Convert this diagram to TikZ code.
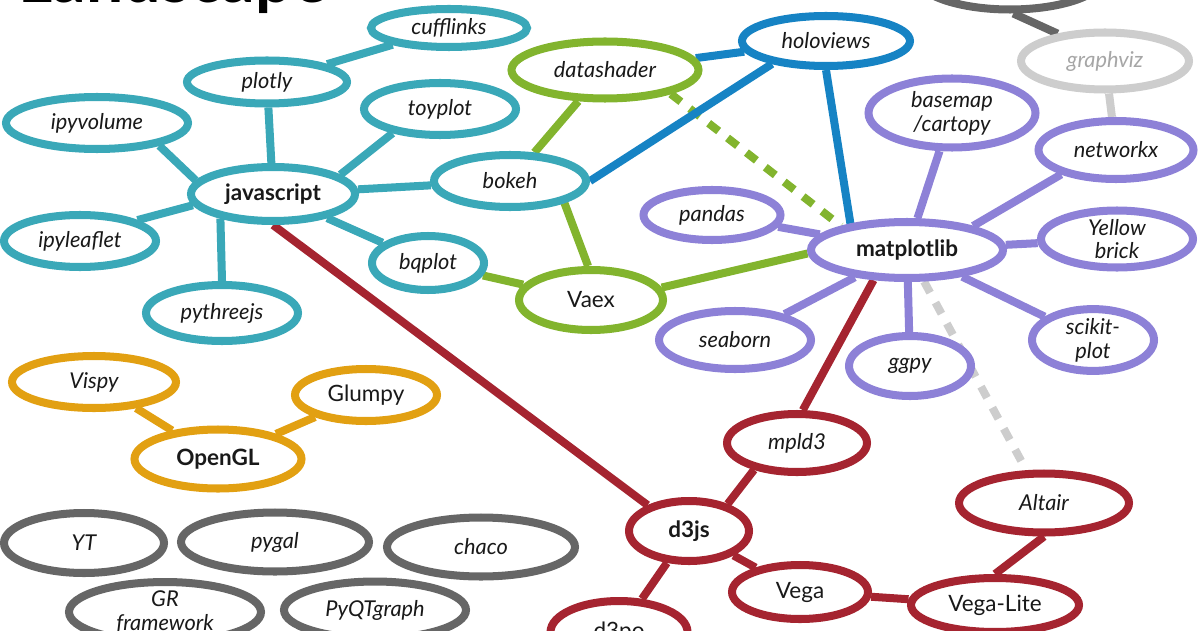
\documentclass[tikz,border=0pt]{standalone}
\usepackage{fontspec}
\setmainfont{Lato}
\usepackage{tikz}
\usetikzlibrary{shapes.geometric,backgrounds}

\definecolor{jsteal}{RGB}{58,168,184}
\definecolor{shadegreen}{RGB}{130,180,46}
\definecolor{holoblue}{RGB}{22,131,196}
\definecolor{mplpurple}{RGB}{141,129,215}
\definecolor{d3red}{RGB}{165,36,48}
\definecolor{glorange}{RGB}{226,160,18}
\definecolor{darkgray}{RGB}{102,102,102}
\definecolor{lightgray}{RGB}{205,205,205}

\tikzset{
    lib/.style={ellipse, draw, fill=white, line width=5.7pt, inner sep=0pt, align=center,
      text=black!90, font=\fontsize{15.5}{17}\selectfont\itshape},
    plain/.style={lib, font=\fontsize{16}{17}\selectfont},
    hub/.style={lib, font=\fontsize{16}{17}\selectfont\bfseries},
    sz/.style n args={2}{minimum width=#1*0.025cm, minimum height=#2*0.025cm},
    link/.style={line width=5.7pt},
    dashlink/.style={line width=5.7pt, dash pattern=on 9pt off 8pt}
}

\begin{document}
\begin{tikzpicture}[x=0.025cm, y=-0.025cm]
        \useasboundingbox (0,0) rectangle (1200,630);
        \clip (0,0) rectangle (1200,630);
        \node[font=\fontsize{47}{47}\selectfont\bfseries, anchor=base west, inner sep=0pt] (title) at (18,3) {Landscape};
        % javascript
        \node[hub, draw=jsteal, sz={164}{54}] (javascript) at (273,194) {javascript};
        \node[lib, draw=jsteal, sz={160}{43}] (plotly) at (267,82) {plotly};
        \node[lib, draw=jsteal, sz={156}{38}] (cufflinks) at (449,28) {cufflinks};
        \node[lib, draw=jsteal, sz={182}{52}] (ipyvolume) at (97,123) {ipyvolume};
        \node[lib, draw=jsteal, sz={152}{52}] (toyplot) at (440,109) {toyplot};
        \node[lib, draw=jsteal, sz={152}{52}] (bokeh) at (510,181) {bokeh};
        \node[lib, draw=jsteal, sz={152}{52}] (ipyleaflet) at (80,241) {ipyleaflet};
        \node[lib, draw=jsteal, sz={152}{56}] (pythreejs) at (222,313) {pythreejs};
        \node[lib, draw=jsteal, sz={112}{54}] (bqplot) at (428,263) {bqplot};
        % datashader, holoviews, vaex
        \node[lib, draw=shadegreen, sz={187}{57}] (datashader) at (605,70) {datashader};
        \node[lib, draw=holoblue, sz={168}{50}] (holoviews) at (826,41) {holoviews};
        \node[plain, draw=shadegreen, sz={144}{60}] (vaex) at (591,300) {Vaex};
        % matplotlib
        \node[hub, draw=mplpurple, sz={192}{56}] (matplotlib) at (907,250) {matplotlib};
        \node[lib, draw=mplpurple, sz={137}{50}] (pandas) at (712,215) {pandas};
        \node[lib, draw=mplpurple, sz={152}{58}] (seaborn) at (735,340) {seaborn};
        \node[lib, draw=mplpurple, sz={167}{69}] (basemap) at (952,113) {basemap\\/cartopy};
        \node[lib, draw=mplpurple, sz={155}{58}] (networkx) at (1116,150) {networkx};
        \node[lib, draw=mplpurple, sz={152}{57}] (yellowbrick) at (1117,239) {Yellow\\brick};
        \node[lib, draw=mplpurple, sz={122}{58}] (scikitplot) at (1093,340) {scikit-\\plot};
        \node[lib, draw=mplpurple, sz={122}{60}] (ggpy) at (910,366) {ggpy};
        % graphviz
        \node[lib, draw=lightgray, sz={168}{57}, text=black!35] (graphviz) at (1105,61) {graphviz};
        \node[lib, draw=darkgray, sz={189}{67}] (topgray) at (1010,-24) {};
        % d3js
        \node[hub, draw=d3red, sz={120}{60}] (d3js) at (689,531) {d3js};
        \node[lib, draw=d3red, sz={140}{58}] (mpld3) at (797,443) {mpld3};
        \node[plain, draw=d3red, sz={136}{54}] (vega) at (800,592) {Vega};
        \node[plain, draw=d3red, sz={168}{54}] (vegalite) at (995,605) {Vega-Lite};
        \node[lib, draw=d3red, sz={170}{59}] (altair) at (1044,503) {Altair};
        \node[plain, draw=d3red, sz={137}{62}] (d3po) at (619,632) {d3po};
        % OpenGL
        \node[hub, draw=glorange, sz={167}{59}] (opengl) at (218,459) {OpenGL};
        \node[lib, draw=glorange, sz={164}{52}] (vispy) at (94,382) {Vispy};
        \node[plain, draw=glorange, sz={142}{52}] (glumpy) at (366,395) {Glumpy};
        % Others
        \node[lib, draw=darkgray, sz={160}{60}] (yt) at (84,543) {YT};
        \node[lib, draw=darkgray, sz={188}{59}] (pygal) at (275,542) {pygal};
        \node[lib, draw=darkgray, sz={188}{59}] (chaco) at (481,547) {chaco};
        \node[lib, draw=darkgray, sz={192}{57}] (grframework) at (165,612) {GR\\framework};
        \node[lib, draw=darkgray, sz={182}{57}] (pyqtgraph) at (375,610) {PyQTgraph};
        \begin{scope}[on background layer]
        % teal links
        \draw[link, jsteal] (plotly) -- (cufflinks);
        \draw[link, jsteal] (javascript) -- (plotly);
        \draw[link, jsteal] (javascript.170) -- (ipyvolume.-20);
        \draw[link, jsteal] (javascript.188) -- (ipyleaflet.20);
        \draw[link, jsteal] (javascript.205) -- (pythreejs.north);
        \draw[link, jsteal] (javascript) -- (bokeh);
        \draw[link, jsteal] (javascript.16) -- (toyplot.207);
        \draw[link, jsteal] (javascript) -- (bqplot);
        % green links
        \draw[link, shadegreen] (bokeh) -- (datashader);
        \draw[link, shadegreen] (bokeh.-22) -- (vaex.95);
        \draw[link, shadegreen] (bqplot) -- (vaex);
        \draw[link, shadegreen] (vaex.10) -- (matplotlib.182);
        \draw[dashlink, shadegreen] (datashader.-20) -- (matplotlib.160);
        % blue links
        \draw[link, holoblue] (datashader) -- (holoviews);
        \draw[link, holoblue] (bokeh.0) -- (holoviews.203);
        \draw[link, holoblue] (holoviews.south) -- (matplotlib.155);
        % purple links
        \draw[link, mplpurple] (matplotlib) -- (pandas);
        \draw[link, mplpurple] (matplotlib) -- (seaborn);
        \draw[link, mplpurple] (matplotlib) -- (basemap);
        \draw[link, mplpurple] (matplotlib.20) -- (networkx.204);
        \draw[link, mplpurple] (matplotlib) -- (yellowbrick);
        \draw[link, mplpurple] (matplotlib) -- (scikitplot);
        \draw[link, mplpurple] (matplotlib) -- (ggpy);
        % gray links
        \draw[link, lightgray] (networkx) -- (graphviz);
        \draw[link, darkgray] (topgray.-85) -- (graphviz.150);
        \draw[dashlink, lightgray] (matplotlib) -- (altair);
        % red links
        \draw[link, d3red] (javascript.south) -- (d3js.148);
        \draw[link, d3red] (matplotlib.222) -- (mpld3.80);
        \draw[link, d3red] (mpld3.212) -- (d3js.35);
        \draw[link, d3red] (d3js) -- (vega);
        \draw[link, d3red] (d3js) -- (d3po);
        \draw[link, d3red] (vega) -- (vegalite);
        \draw[link, d3red] (vegalite.north) -- (altair.south);
        % orange links
        \draw[link, glorange] (vispy) -- (opengl);
        \draw[link, glorange] (glumpy) -- (opengl);
        \end{scope}
\end{tikzpicture}
\end{document}
